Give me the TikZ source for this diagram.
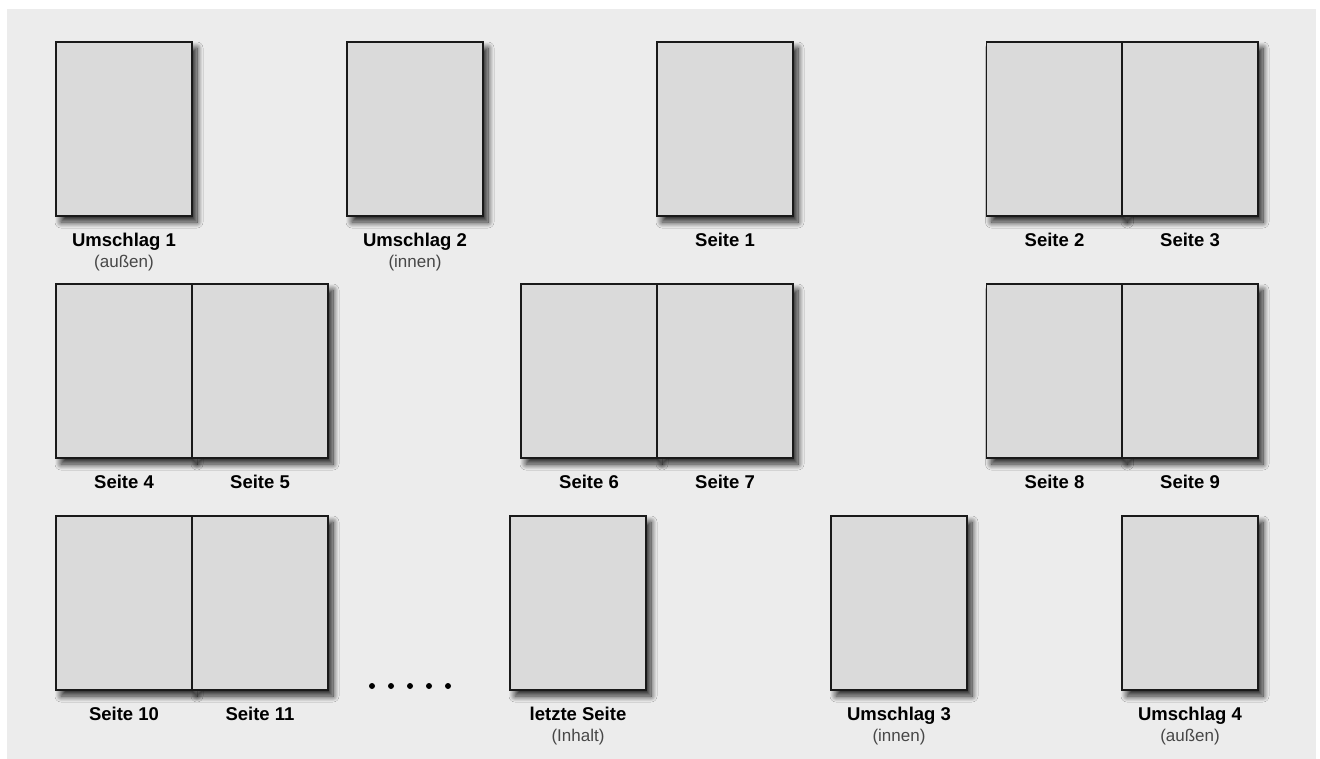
\documentclass[tikz,border=0pt]{standalone}
\usepackage{fontspec}
\setmainfont{Liberation Sans}
\usetikzlibrary{positioning,shadows.blur}
\definecolor{hinter}{HTML}{ECECEC}
\definecolor{papier}{HTML}{DADADA}
\tikzset{
  seite/.style={draw=black!90, line width=1.1pt, fill=papier, minimum width=136pt,
    minimum height=174pt, inner sep=0pt,
    blur shadow={shadow xshift=5pt, shadow yshift=-6pt, shadow blur radius=6pt,
      shadow blur steps=12, shadow opacity=85}},
  titel/.style={font=\bfseries\fontsize{18.5}{21}\selectfont, inner sep=0pt},
  zusatz/.style={font=\fontsize{17}{19}\selectfont, text=black!72, inner sep=0pt},
  punkt/.style={fill=black, inner sep=0pt, minimum size=6pt, circle}
}
\newcommand{\blatt}[2]{\node[seite] (#1) at (#2) {}}
\newcommand{\titel}[2]{\node[titel, below=30pt of #1.south, anchor=base] (t#1) {#2}}
\newcommand{\zusatz}[2]{\node[zusatz, below=21pt of t#1.base, anchor=base] (z#1) {#2}}

\begin{document}
\begin{tikzpicture}[x=1pt, y=-1pt]
%Background
	\useasboundingbox (0,0) rectangle (1320,758);
	\fill[hinter] (7,9) rectangle (1316,770);
%First row
	\blatt{u1}{124,129};
	\blatt{u2}{415,129};
	\blatt{s1}{725,129};
	\blatt{s2}{1054.5,129};
	\blatt{s3}{1190,129};
	\titel{u1}{Umschlag 1};
	\zusatz{u1}{(außen)};
	\titel{u2}{Umschlag 2};
	\zusatz{u2}{(innen)};
	\titel{s1}{Seite 1};
	\titel{s2}{Seite 2};
	\titel{s3}{Seite 3};
%Second row
	\blatt{s4}{124,371};
	\blatt{s5}{260,371};
	\blatt{s6}{589,371};
	\blatt{s7}{725,371};
	\blatt{s8}{1054.5,371};
	\blatt{s9}{1190,371};
	\titel{s4}{Seite 4};
	\titel{s5}{Seite 5};
	\titel{s6}{Seite 6};
	\titel{s7}{Seite 7};
	\titel{s8}{Seite 8};
	\titel{s9}{Seite 9};
%Third row
	\blatt{s10}{124,603};
	\blatt{s11}{260,603};
	\blatt{ls}{578,603};
	\blatt{u3}{899,603};
	\blatt{u4}{1190,603};
	\titel{s10}{Seite 10};
	\titel{s11}{Seite 11};
	\titel{ls}{letzte Seite};
	\zusatz{ls}{(Inhalt)};
	\titel{u3}{Umschlag 3};
	\zusatz{u3}{(innen)};
	\titel{u4}{Umschlag 4};
	\zusatz{u4}{(außen)};
%Dots
	\foreach \i/\x in {1/372,2/391,3/410,4/429,5/448}
		\node[punkt] (d\i) at (\x,686) {};
\end{tikzpicture}
\end{document}
